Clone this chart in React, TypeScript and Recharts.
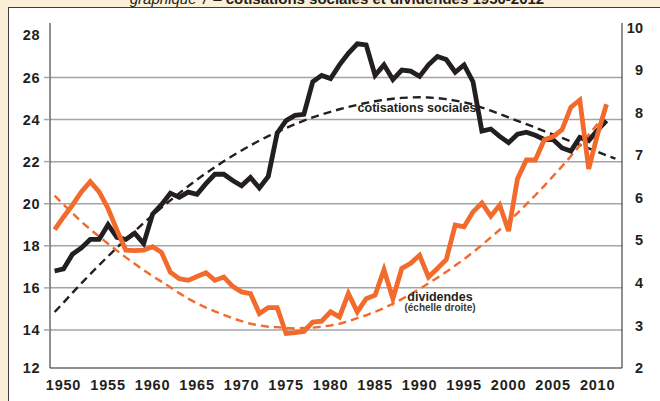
import { CartesianGrid, Line, LineChart, ReferenceLine, XAxis, YAxis } from "recharts";

const START_YEAR = 1949;
const YEARS = Array.from({ length: 64 }, (_, i) => START_YEAR + i);

// cotisations sociales, % (left scale), 1949-2011
const COTISATIONS = [
  16.8, 16.9, 17.6, 17.9, 18.3, 18.3, 19.0, 18.4, 18.3, 18.6,
  18.1, 19.5, 19.95, 20.5, 20.3, 20.55, 20.45, 20.95, 21.4, 21.4,
  21.1, 20.85, 21.25, 20.75, 21.3, 23.35, 23.95, 24.2, 24.25, 25.8,
  26.1, 25.95, 26.6, 27.15, 27.6, 27.55, 26.1, 26.6, 25.9, 26.35,
  26.3, 26.05, 26.6, 27.0, 26.85, 26.25, 26.6, 25.8, 23.45, 23.55,
  23.2, 22.9, 23.3, 23.4, 23.25, 23.05, 23.05, 22.65, 22.5, 23.15,
  23.0, 23.5, 23.95,
];

// dividendes, % (right scale), 1949-2011
const DIVIDENDES = [
  5.25, 5.55, 5.83, 6.14, 6.38, 6.14, 5.75, 5.24, 4.77, 4.76,
  4.77, 4.85, 4.72, 4.25, 4.1, 4.06, 4.15, 4.24, 4.06, 4.14,
  3.92, 3.79, 3.75, 3.28, 3.42, 3.42, 2.81, 2.83, 2.86, 3.08,
  3.1, 3.32, 3.2, 3.75, 3.32, 3.63, 3.71, 4.31, 3.63, 4.34,
  4.46, 4.65, 4.14, 4.34, 4.55, 5.36, 5.32, 5.67, 5.88, 5.57,
  5.83, 5.22, 6.45, 6.89, 6.89, 7.36, 7.44, 7.6, 8.13, 8.3,
  6.68, 7.5, 8.2,
];

// tendances (pointillés)
const COTISATIONS_TREND = [
  14.85, 15.3, 15.76, 16.21, 16.65, 17.08, 17.5, 17.91, 18.31, 18.7,
  19.08, 19.45, 19.81, 20.16, 20.5, 20.83, 21.15, 21.45, 21.74, 22.02,
  22.28, 22.53, 22.77, 23.0, 23.21, 23.41, 23.6, 23.78, 23.95, 24.1,
  24.24, 24.37, 24.49, 24.6, 24.7, 24.79, 24.87, 24.94, 24.99, 25.03,
  25.05, 25.06, 25.05, 25.02, 24.97, 24.9, 24.82, 24.72, 24.57, 24.42,
  24.27, 24.1, 23.94, 23.78, 23.62, 23.45, 23.29, 23.13, 22.96, 22.8,
  22.63, 22.47, 22.3, 22.14,
];

const DIVIDENDES_TREND = [
  6.05, 5.84, 5.64, 5.44, 5.26, 5.09, 4.92, 4.76, 4.6, 4.45,
  4.3, 4.16, 4.03, 3.9, 3.76, 3.63, 3.52, 3.42, 3.33, 3.25,
  3.17, 3.1, 3.04, 3.0, 2.97, 2.96, 2.94, 2.93, 2.94, 2.95,
  2.97, 3.0, 3.04, 3.1, 3.17, 3.24, 3.32, 3.41, 3.51, 3.62,
  3.74, 3.86, 3.99, 4.12, 4.26, 4.41, 4.56, 4.72, 4.89, 5.07,
  5.25, 5.44, 5.64, 5.85, 6.06, 6.28, 6.51, 6.74, 6.98, 7.23,
  7.48, 7.74, 8.05,
];

const X_TICKS = [1950, 1955, 1960, 1965, 1970, 1975, 1980, 1985, 1990, 1995, 2000, 2005, 2010];
const LEFT_MIN = 12.19;
const LEFT_MAX = 28.59;
const LEFT_TICKS = [LEFT_MIN, 14, 16, 18, 20, 22, 24, 26, 28];
const GRID_VALUES = [14, 16, 18, 20, 22, 24, 26];
const RIGHT_TICKS = [2, 3, 4, 5, 6, 7, 8, 9, 10];

const data = YEARS.map((year, i) => ({
  year,
  cotisations: COTISATIONS[i] ?? null,
  dividendes: DIVIDENDES[i] ?? null,
  cotisationsTrend: COTISATIONS_TREND[i] ?? null,
  dividendesTrend: DIVIDENDES_TREND[i] ?? null,
}));

const INK = "#231f20";
const ORANGE = "#f26a2c";
const GRID = "#a3a5a8";
const FONT = "'Liberation Sans', Arial, Helvetica, sans-serif";

function LeftTick({ x, y, payload }: any) {
  const v = payload.value;
  return (
    <g>
      {GRID_VALUES.includes(v) ? (
        <line x1={x + 4} x2={x + 10} y1={y} y2={y} stroke={GRID} strokeWidth={1.5} />
      ) : null}
      <text x={x} y={y} dy="0.35em" textAnchor="end" fontSize={14.5} fontWeight="bold" fill={INK} fontFamily={FONT} letterSpacing={0.5}>
        {Math.round(v)}
      </text>
    </g>
  );
}

function RightTick({ x, y, payload }: any) {
  return (
    <text x={x} y={y} dy="0.35em" textAnchor="end" fontSize={14.5} fontWeight="bold" fill={INK} fontFamily={FONT}>
      {payload.value}
    </text>
  );
}

export default function App() {
  return (
    <div style={{ position: "absolute", left: 0, top: 0, width: 660, height: 401, background: "#fcefd9", overflow: "hidden" }}>
      <div
        style={{
          position: "absolute",
          left: 8,
          top: 7,
          width: 700,
          height: 450,
          background: "#fff",
          border: "1px solid #3c3c3c",
        }}
      />
      <svg width={660} height={20} style={{ position: "absolute", left: 0, top: 0 }}>
        <text x={337} y={4} textAnchor="middle" fontSize={15} fill={INK} fontFamily={FONT}>
          <tspan fontStyle="italic">graphique 7 – </tspan>
          <tspan fontWeight="bold">cotisations sociales et dividendes 1950-2012</tspan>
        </text>
      </svg>
      <div style={{ position: "absolute", left: 0, top: 0 }}>
        <LineChart width={660} height={401} data={data} margin={{ top: 23, right: 0, bottom: 0, left: 0 }}>
          <CartesianGrid horizontal={false} vertical={false} />
          <XAxis
            dataKey="year"
            type="number"
            domain={[1948.48, 2012.74]}
            allowDataOverflow
            ticks={X_TICKS}
            interval={0}
            height={33}
            tickSize={0}
            tickMargin={12}
            axisLine={{ stroke: INK, strokeWidth: 1 }}
            tick={{ fill: INK, fontSize: 14.5, fontWeight: "bold", fontFamily: FONT, letterSpacing: 0.8 }}
          />
          <XAxis
            xAxisId="top"
            dataKey="year"
            type="number"
            orientation="top"
            domain={[1948.48, 2012.74]}
            allowDataOverflow
            height={0}
            tick={false}
            tickLine={false}
            axisLine={{ stroke: INK, strokeWidth: 1 }}
          />
          <YAxis
            yAxisId="left"
            type="number"
            domain={[LEFT_MIN, LEFT_MAX]}
            allowDataOverflow
            ticks={LEFT_TICKS}
            interval={0}
            width={50}
            tickSize={0}
            tickMargin={10}
            tickLine={false}
            axisLine={{ stroke: INK, strokeWidth: 1 }}
            tick={<LeftTick />}
          />
          <YAxis
            yAxisId="right"
            orientation="right"
            type="number"
            domain={[2, 10.11]}
            allowDataOverflow
            ticks={RIGHT_TICKS}
            interval={0}
            width={38}
            tickSize={0}
            tickMargin={21}
            tickLine={false}
            axisLine={{ stroke: INK, strokeWidth: 1 }}
            tick={<RightTick />}
          />
          {GRID_VALUES.map((v) => (
            <ReferenceLine key={v} yAxisId="left" y={v} stroke={GRID} strokeWidth={1.5} />
          ))}
          <Line
            yAxisId="left"
            dataKey="cotisationsTrend"
            stroke={INK}
            strokeWidth={2.4}
            strokeDasharray="8 5"
            dot={false}
            activeDot={false}
            isAnimationActive={false}
          />
          <Line
            yAxisId="right"
            dataKey="dividendesTrend"
            stroke={ORANGE}
            strokeWidth={2.4}
            strokeDasharray="8 5"
            dot={false}
            activeDot={false}
            isAnimationActive={false}
          />
          <Line
            yAxisId="left"
            dataKey="cotisations"
            stroke={INK}
            strokeWidth={4.8}
            dot={false}
            activeDot={false}
            isAnimationActive={false}
          />
          <Line
            yAxisId="right"
            dataKey="dividendes"
            stroke={ORANGE}
            strokeWidth={4.8}
            dot={false}
            activeDot={false}
            isAnimationActive={false}
          />
        </LineChart>
      </div>
      <svg width={660} height={401} style={{ position: "absolute", left: 0, top: 0, pointerEvents: "none" }}>
        <text x={417} y={111.5} textAnchor="middle" fontSize={12.5} fontWeight="bold" fill={INK} fontFamily={FONT}>
          cotisations sociales
        </text>
        <text x={440} y={300.5} textAnchor="middle" fontSize={12.5} fontWeight="bold" fill={INK} fontFamily={FONT}>
          dividendes
        </text>
        <text x={440} y={311} textAnchor="middle" fontSize={10} fontWeight="bold" fill="#3a3a3a" fontFamily={FONT}>
          (échelle droite)
        </text>
      </svg>
    </div>
  );
}
